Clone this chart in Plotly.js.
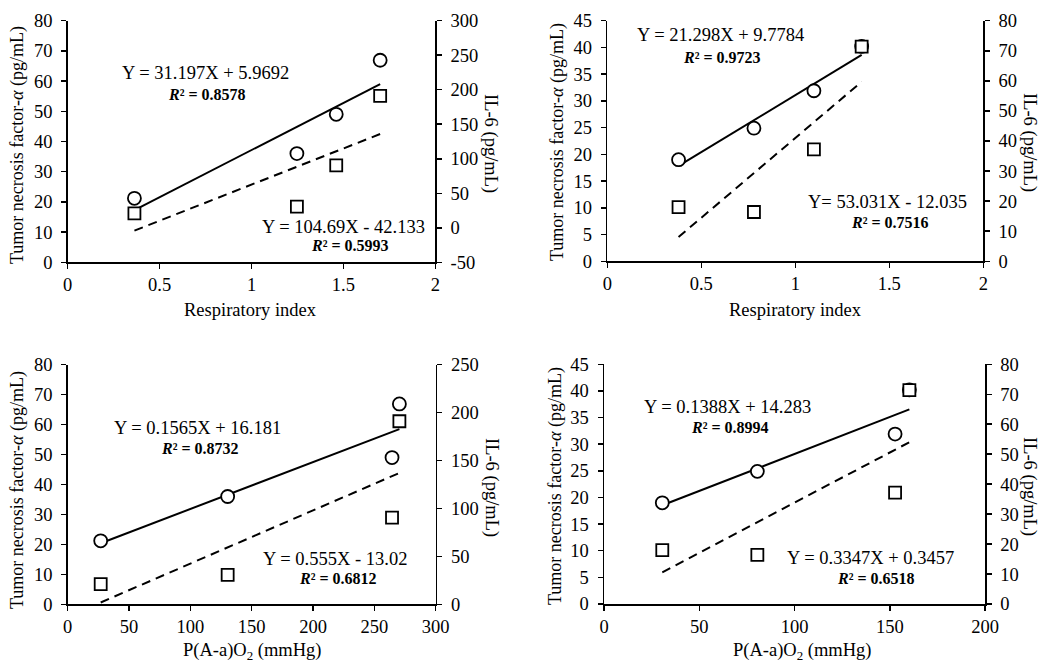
<!DOCTYPE html>
<html>
<head>
<meta charset="utf-8">
<script src="https://cdn.plot.ly/plotly-3.0.1.min.js"></script>
<style>html,body{margin:0;padding:0;background:#fff;}#chart{width:1041px;height:662px;}</style>
</head>
<body>
<div id="chart"></div>
<script>
// ---- data ----
// Group A (panels on the left)
const riA   = [0.363, 1.247, 1.461, 1.70];     // respiratory index
const paA   = [26.9, 130.4, 264.4, 270.4];     // P(A-a)O2 (mmHg)
const tnfA  = [21.2, 36.0, 49.0, 66.9];        // TNF-alpha (pg/mL)
const il6A  = [21, 30.6, 90.5, 191];           // IL-6 (pg/mL)
// Group B (panels on the right)
const riB   = [0.379, 0.780, 1.099, 1.353];
const paB   = [30.6, 80.5, 152.8, 160.3];
const tnfB  = [19.0, 24.9, 31.9, 40.2];
const il6B  = [18.0, 16.4, 37.2, 71.4];

// trend line coefficients shown on the chart
const tnfSlope     = [31.197, 21.298, 0.1565, 0.1388];
const tnfIntercept = [5.9692, 9.7784, 16.181, 14.283];
const il6Slope     = [104.69, 53.031, 0.555, 0.3347];
const il6Intercept = [-42.133, -12.035, -13.02, 0.3457];
const tnfEqText = ['Y = 31.197X + 5.9692', 'Y = 21.298X + 9.7784', 'Y = 0.1565X + 16.181', 'Y = 0.1388X + 14.283'];
const il6EqText = ['Y = 104.69X - 42.133', 'Y= 53.031X - 12.035', 'Y = 0.555X - 13.02', 'Y = 0.3347X + 0.3457'];
const tnfR2 = ['0.8578', '0.9723', '0.8732', '0.8994'];
const il6R2 = ['0.5993', '0.7516', '0.6812', '0.6518'];

// axis tick labels
const xTicksRI = [0, 0.5, 1, 1.5, 2];
const xTicksPA1 = [0, 50, 100, 150, 200, 250, 300];
const xTicksPA2 = [0, 50, 100, 150, 200];
const il6Ticks1 = [-50, 0, 50, 100, 150, 200, 250, 300];
const il6TickText1 = ['-50', '0', '50', '100', '150', '200', '250', '300'];

const xTitleRI = 'Respiratory index';
const xTitlePA = 'P(A-a)O<sub>2</sub> (mmHg)';
const yTitleL = 'Tumor necrosis factor-<i>α</i> (pg/mL)';
const yTitleR = 'IL-6 (pg/mL)';

// ---- build ----
const W = 1041, H = 662;
const FONT = '"Liberation Serif", "Times New Roman", serif';
const INK = '#000';
const FS = 18.5;

const panels = [
  {x: riA, tnf: tnfA, il6: il6A, xa: 'x',  yl: 'y',  yr: 'y2'},
  {x: riB, tnf: tnfB, il6: il6B, xa: 'x2', yl: 'y3', yr: 'y4'},
  {x: paA, tnf: tnfA, il6: il6A, xa: 'x3', yl: 'y5', yr: 'y6'},
  {x: paB, tnf: tnfB, il6: il6B, xa: 'x4', yl: 'y7', yr: 'y8'}
];

const traces = [];
panels.forEach((p, i) => {
  const xmin = Math.min(...p.x), xmax = Math.max(...p.x);
  const lx = [xmin, xmax];
  traces.push({x: lx, y: lx.map(v => tnfSlope[i]*v + tnfIntercept[i]), xaxis: p.xa, yaxis: p.yl,
    mode: 'lines', line: {color: INK, width: 2}, hoverinfo: 'skip'});
  traces.push({x: lx, y: lx.map(v => il6Slope[i]*v + il6Intercept[i]), xaxis: p.xa, yaxis: p.yr,
    mode: 'lines', line: {color: INK, width: 2, dash: '9px,6px'}, hoverinfo: 'skip'});
  traces.push({x: p.x, y: p.tnf, xaxis: p.xa, yaxis: p.yl, mode: 'markers',
    marker: {symbol: 'circle', size: 13, color: '#fff', line: {color: INK, width: 1.8}}, cliponaxis: false});
  traces.push({x: p.x, y: p.il6, xaxis: p.xa, yaxis: p.yr, mode: 'markers',
    marker: {symbol: 'square', size: 12, color: '#fff', line: {color: INK, width: 1.8}}, cliponaxis: false});
});

function px(v) { return v / W; }
function py(v) { return 1 - v / H; }

const axBase = {
  showgrid: false, zeroline: false, showline: true, linecolor: INK, linewidth: 1.5,
  ticks: 'outside', ticklen: 5, tickwidth: 1.5, tickcolor: INK,
  tickfont: {family: FONT, size: FS, color: INK}, fixedrange: true
};
function ax(extra) { return Object.assign({}, axBase, extra); }

const dom = [
  {x: [px(67.7), px(435.3)], y: [py(262.3), py(20.7)]},
  {x: [px(607.3), px(983.3)], y: [py(261.3), py(20.7)]},
  {x: [px(67.7), px(435.7)], y: [py(604.3), py(364.7)]},
  {x: [px(604), px(985)], y: [py(604), py(364.3)]}
];

const layout = {
  width: W, height: H, margin: {l: 0, r: 0, t: 0, b: 0},
  paper_bgcolor: '#fff', plot_bgcolor: 'rgba(0,0,0,0)', showlegend: false,
  font: {family: FONT, color: INK},
  xaxis:  ax({domain: dom[0].x, range: [0, 2], tickvals: xTicksRI, anchor: 'y'}),
  yaxis:  ax({domain: dom[0].y, range: [0, 80], dtick: 10, anchor: 'x', ticklabelstandoff: 5}),
  yaxis2: ax({domain: dom[0].y, range: [-50, 300], tickvals: il6Ticks1, ticktext: il6TickText1, anchor: 'x', overlaying: 'y', side: 'right', ticklabelstandoff: 5}),
  xaxis2: ax({domain: dom[1].x, range: [0, 2], tickvals: xTicksRI, anchor: 'y3'}),
  yaxis3: ax({domain: dom[1].y, range: [0, 45], dtick: 5, anchor: 'x2', ticklabelstandoff: 5}),
  yaxis4: ax({domain: dom[1].y, range: [0, 80], dtick: 10, anchor: 'x2', overlaying: 'y3', side: 'right', ticklabelstandoff: 5}),
  xaxis3: ax({domain: dom[2].x, range: [0, 300], tickvals: xTicksPA1, anchor: 'y5'}),
  yaxis5: ax({domain: dom[2].y, range: [0, 80], dtick: 10, anchor: 'x3', ticklabelstandoff: 5}),
  yaxis6: ax({domain: dom[2].y, range: [0, 250], dtick: 50, anchor: 'x3', overlaying: 'y5', side: 'right', ticklabelstandoff: 5}),
  xaxis4: ax({domain: dom[3].x, range: [0, 200], tickvals: xTicksPA2, anchor: 'y7'}),
  yaxis7: ax({domain: dom[3].y, range: [0, 45], dtick: 5, anchor: 'x4', ticklabelstandoff: 5}),
  yaxis8: ax({domain: dom[3].y, range: [0, 80], dtick: 10, anchor: 'x4', overlaying: 'y7', side: 'right', ticklabelstandoff: 5}),
  annotations: []
};

function note(text, x, y, size, angle) {
  layout.annotations.push({text: text, xref: 'paper', yref: 'paper', x: px(x), y: py(y),
    xanchor: 'center', yanchor: 'middle', showarrow: false, textangle: angle || 0,
    font: {family: FONT, size: size, color: INK}});
}

// axis titles
note(xTitleRI, 250, 310, FS);
note(xTitleRI, 795, 310, FS);
note(xTitlePA, 252, 651, FS);
note(xTitlePA, 802, 651, FS);
note(yTitleL, 17, 145, 18, -90);
note(yTitleL, 557, 142, 18, -90);
note(yTitleL, 17, 490, 18, -90);
note(yTitleL, 555, 486, 18, -90);
note(yTitleR, 491, 143, FS, 90);
note(yTitleR, 1030, 142, FS, 90);
note(yTitleR, 492, 487, FS, 90);
note(yTitleR, 1030, 486, FS, 90);

// equations
const eqPos = [
  {t: [205, 73, 207, 95],  d: [343, 227, 350, 245]},
  {t: [720, 35, 722, 57],  d: [887, 202, 890, 222]},
  {t: [197, 428, 200, 448], d: [335, 559, 338, 578]},
  {t: [727, 407, 730, 427], d: [870, 558, 876, 578]}
];
eqPos.forEach((e, i) => {
  note(tnfEqText[i], e.t[0], e.t[1], FS);
  note('<b><i>R</i>² = ' + tnfR2[i] + '</b>', e.t[2], e.t[3], 16);
  note(il6EqText[i], e.d[0], e.d[1], FS);
  note('<b><i>R</i>² = ' + il6R2[i] + '</b>', e.d[2], e.d[3], 16);
});

Plotly.newPlot('chart', traces, layout, {staticPlot: true, displayModeBar: false});
</script>
</body>
</html>
